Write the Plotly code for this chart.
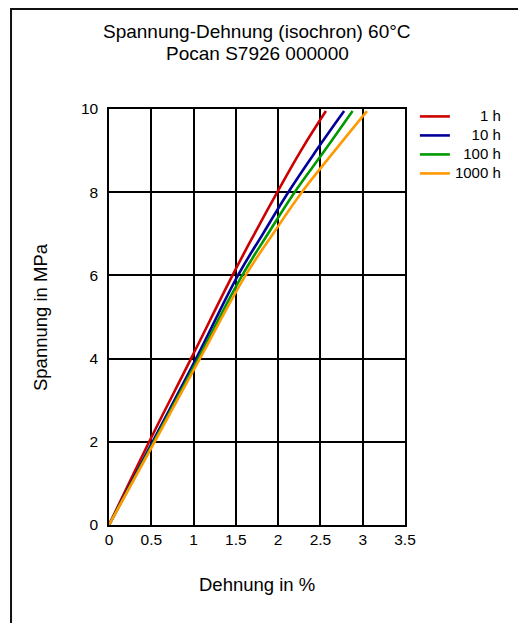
import plotly.graph_objects as go

# Data (strain in %, stress in MPa)
series_names = ["1 h", "10 h", "100 h", "1000 h"]
series_colors = ["#CC0000", "#000099", "#009900", "#FF9900"]

stress = [0, 2, 4, 6, 7, 8, 9, 9.95]
strain_1h = [0, 0.475, 0.97, 1.46, 1.72, 1.99, 2.27, 2.565]
strain_10h = [0, 0.515, 1.03, 1.525, 1.82, 2.12, 2.45, 2.78]
strain_100h = [0, 0.53, 1.055, 1.575, 1.88, 2.195, 2.55, 2.88]
strain_1000h = [0, 0.54, 1.075, 1.615, 1.94, 2.28, 2.67, 3.05]

x_ticks = [0, 0.5, 1, 1.5, 2, 2.5, 3, 3.5]
x_tick_labels = ["0", "0.5", "1", "1.5", "2", "2.5", "3", "3.5"]
y_ticks = [0, 2, 4, 6, 8, 10]
y_tick_labels = ["0", "2", "4", "6", "8", "10"]

FONT = "Liberation Sans, Arial, sans-serif"
FS = "\u2007"
pad = {"1 h": FS * 3, "10 h": FS * 2, "100 h": FS, "1000 h": ""}

fig = go.Figure()
for name, color, xs in zip(series_names, series_colors,
                           [strain_1h, strain_10h, strain_100h, strain_1000h]):
    fig.add_trace(go.Scatter(
        x=xs, y=stress, mode="lines",
        name='<span style="font-size:15px">' + pad[name] + name + "</span>",
        line=dict(color=color, width=2.6, shape="spline", smoothing=1.2),
    ))

axis_common = dict(
    showgrid=True, gridcolor="#000000", gridwidth=1.5,
    showline=True, linecolor="#000000", linewidth=1.5, mirror=True,
    zeroline=False, ticks="", tickfont=dict(family=FONT, size=15.5, color="#000"),
)
fig.update_xaxes(range=[0, 3.5], tickvals=x_ticks, ticktext=x_tick_labels, **axis_common)
fig.update_yaxes(range=[0, 10], tickvals=y_ticks, ticktext=y_tick_labels,
                 ticklabelstandoff=6, **axis_common)

fig.update_layout(
    width=526, height=623,
    margin=dict(l=101, r=129, t=101, b=106),
    plot_bgcolor="white", paper_bgcolor="white",
    font=dict(family=FONT, color="#000"),
    showlegend=True,
    legend=dict(x=1.0334, y=1.017, xanchor="left", yanchor="top",
                font=dict(family=FONT, size=11.7, color="#000"),
                bgcolor="rgba(0,0,0,0)", borderwidth=0, itemwidth=30,
                tracegroupgap=0),
    shapes=[dict(type="rect", xref="paper", yref="paper",
                 x0=-0.331, y0=-1.0, x1=2.0, y1=1.2404,
                 line=dict(color="#111", width=2), layer="below")],
    annotations=[
        dict(text="Spannung-Dehnung (isochron) 60°C", x=0.5, y=1.1863,
             xref="paper", yref="paper", showarrow=False, yanchor="middle",
             font=dict(family=FONT, size=19, color="#000")),
        dict(text="Pocan S7926 000000", x=0.5, y=1.1346,
             xref="paper", yref="paper", showarrow=False, yanchor="middle",
             font=dict(family=FONT, size=19, color="#000")),
        dict(text="Dehnung in %", x=0.5, y=-0.143,
             xref="paper", yref="paper", showarrow=False, yanchor="middle",
             font=dict(family=FONT, size=18.5, color="#000")),
        dict(text="Spannung in MPa", x=-0.233, y=0.5, textangle=-90,
             xref="paper", yref="paper", showarrow=False,
             xanchor="center", yanchor="middle",
             font=dict(family=FONT, size=18.5, color="#000")),
    ],
)

fig.write_html("out.html")
